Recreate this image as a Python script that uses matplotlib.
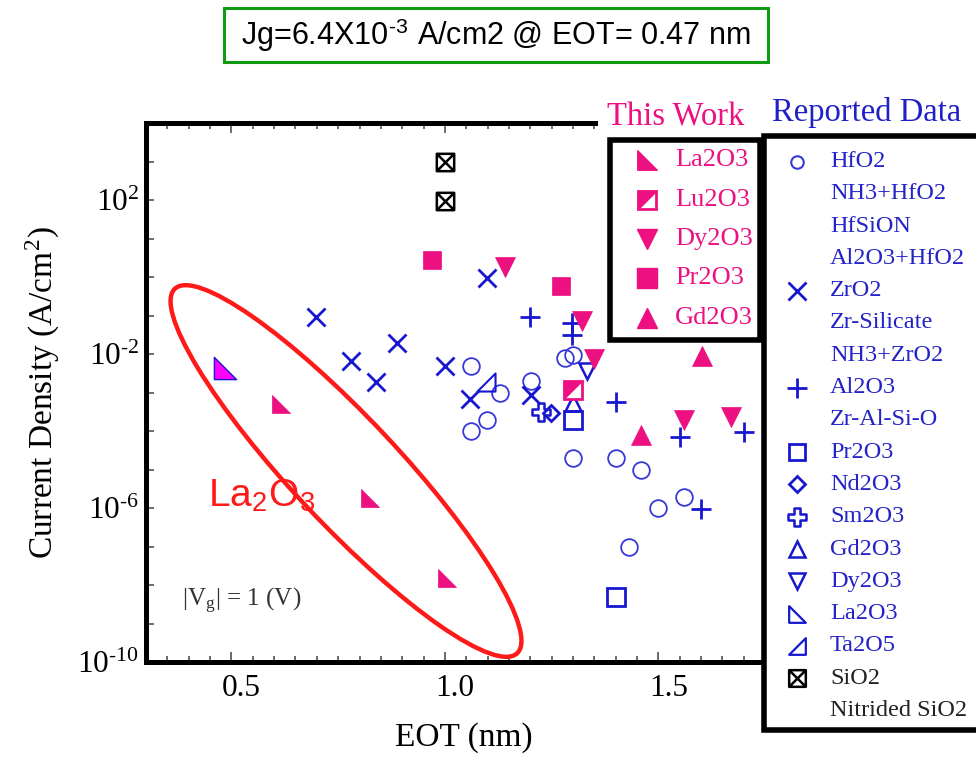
import numpy as np
import matplotlib
matplotlib.use("Agg")
import matplotlib.pyplot as plt
from matplotlib.path import Path
from matplotlib.patches import Ellipse, Rectangle
from matplotlib.ticker import MultipleLocator, NullLocator
import matplotlib.transforms as mtransforms

plt.rcParams['font.family'] = ['Liberation Serif', 'DejaVu Serif']
plt.rcParams['mathtext.fontset'] = 'stix'

PINK = '#EC1080'
BLUE = '#1717D0'
LBLUE = '#3838DA'
RED = '#FF1A1A'

# ---- this work ----
la_eot = [0.615, 0.824, 1.004]
la_jg = [5.1e-4, 1.8e-6, 1.5e-8]
la_best_eot = [0.484]
la_best_jg = [4.3e-3]
lu_eot = [1.30]
lu_jg = [1.16e-3]
dy_eot = [1.14, 1.321, 1.349, 1.561, 1.67]
dy_jg = [1.87, 7.3e-2, 7.2e-3, 1.9e-4, 2.3e-4]
pr_eot = [0.97, 1.271]
pr_jg = [2.76, 0.58]
gd_eot = [1.601, 1.46]
gd_jg = [9.1e-3, 7.9e-5]

# ---- reported data ----
hfo2_eot = [1.06, 1.281, 1.30, 1.13, 1.201, 1.099, 1.06, 1.30, 1.40, 1.46, 1.56, 1.50, 1.431]
hfo2_jg = [5.0e-3, 7.9e-3, 9.5e-3, 9.6e-4, 1.95e-3, 1.9e-4, 1.0e-4, 1.95e-5, 1.95e-5,
           9.7e-6, 1.95e-6, 9.8e-7, 1.0e-7]
zro2_eot = [0.699, 0.779, 0.838, 0.888, 1.0, 1.099, 1.059, 1.201]
zro2_jg = [0.093, 6.7e-3, 1.9e-3, 1.93e-2, 4.8e-3, 0.925, 6.6e-4, 8.6e-4]
al2o3_eot = [1.199, 1.298, 1.298, 1.40, 1.55, 1.70, 1.599]
al2o3_jg = [0.093, 0.065, 0.031, 5.6e-4, 6.9e-5, 9.6e-5, 9.2e-7]
pr2o3_eot = [1.30, 1.40]
pr2o3_jg = [1.9e-4, 5.0e-9]
nd2o3_eot = [1.248]
nd2o3_jg = [3.0e-4]
sm2o3_eot = [1.224]
sm2o3_jg = [3.2e-4]
gd2o3_eot = [1.30]
gd2o3_jg = [5.2e-4]
dy2o3_eot = [1.332]
dy2o3_jg = [3.6e-3]
ta2o5_eot = [1.097]
ta2o5_jg = [1.9e-3]
sio2_eot = [1.0, 1.0]
sio2_jg = [955, 96]

y_label_powers = [2, -2, -6, -10]
this_work_labels = ['La2O3', 'Lu2O3', 'Dy2O3', 'Pr2O3', 'Gd2O3']
reported_labels = ['HfO2', 'NH3+HfO2', 'HfSiON', 'Al2O3+HfO2', 'ZrO2', 'Zr-Silicate',
                   'NH3+ZrO2', 'Al2O3', 'Zr-Al-Si-O', 'Pr2O3', 'Nd2O3', 'Sm2O3',
                   'Gd2O3', 'Dy2O3', 'La2O3', 'Ta2O5', 'SiO2', 'Nitrided SiO2']

# custom marker shapes
tri_ll = Path([(-1, -1), (1, -1), (-1, 1), (-1, -1)], closed=True)
tri_lr = Path([(1, -1), (-1, -1), (1, 1), (1, -1)], closed=True)
tri_ul = Path([(-1, -1), (-1, 1), (1, 1), (-1, -1)], closed=True)
w = 0.36
plus_outline = Path([(-w, 1), (w, 1), (w, w), (1, w), (1, -w), (w, -w), (w, -1), (-w, -1),
                     (-w, -w), (-1, -w), (-1, w), (-w, w), (-w, 1)], closed=True)
xbox = Path([(-1, -1), (1, -1), (1, 1), (-1, 1), (-1, -1), (-1, -1), (1, 1), (-1, 1), (1, -1)],
            [Path.MOVETO, Path.LINETO, Path.LINETO, Path.LINETO, Path.CLOSEPOLY,
             Path.MOVETO, Path.LINETO, Path.MOVETO, Path.LINETO])


def pow_label(k):
    # hyphen instead of the long math minus, like the original
    if k < 0:
        return r'$\mathregular{10^{\text{-}%d}}$' % (-k)
    return r'$\mathregular{10^{%d}}$' % k


W, H = 976, 757
fig = plt.figure(figsize=(W / 100, H / 100), dpi=100)
ax = fig.add_axes([146 / W, 1 - 662 / H, 616 / W, 539 / H])

# reported data
ax.plot(hfo2_eot, hfo2_jg, 'o', ls='none', mfc='none', mec=LBLUE, ms=12, mew=1.3)
ax.plot(zro2_eot, zro2_jg, 'x', ls='none', mec=BLUE, ms=13, mew=2)
ax.plot(al2o3_eot, al2o3_jg, '+', ls='none', mec=BLUE, ms=14, mew=2)
ax.plot(pr2o3_eot, pr2o3_jg, 's', ls='none', mfc='none', mec=BLUE, ms=12.5, mew=2)
ax.plot(nd2o3_eot, nd2o3_jg, 'D', ls='none', mfc='none', mec=BLUE, ms=8, mew=2)
ax.plot(sm2o3_eot, sm2o3_jg, marker=plus_outline, ls='none', mfc='none', mec=BLUE, ms=13, mew=1.8)
ax.plot(gd2o3_eot, gd2o3_jg, '^', ls='none', mfc='none', mec=BLUE, ms=12, mew=1.8)
ax.plot(dy2o3_eot, dy2o3_jg, 'v', ls='none', mfc='none', mec=BLUE, ms=12, mew=1.8)
ax.plot(ta2o5_eot, ta2o5_jg, marker=tri_lr, ls='none', mfc='none', mec=BLUE, ms=13, mew=1.5)
ax.plot(sio2_eot, sio2_jg, marker=xbox, ls='none', mfc='none', mec='black', ms=12.5, mew=1.8)

# this work
ax.plot(la_eot, la_jg, marker=tri_ll, ls='none', mfc=PINK, mec=PINK, ms=13, mew=0.5)
ax.plot(la_best_eot, la_best_jg, marker=tri_ll, ls='none', mfc='#FF00FF', mec=BLUE, ms=16, mew=1)
ax.plot(lu_eot, lu_jg, 's', ls='none', mfc='white', mec=PINK, ms=13, mew=2)
ax.plot(lu_eot, lu_jg, marker=tri_ul, ls='none', mfc=PINK, mec=PINK, ms=13, mew=0.5)
ax.plot(dy_eot, dy_jg, 'v', ls='none', mfc=PINK, mec=PINK, ms=14, mew=0.5)
ax.plot(pr_eot, pr_jg, 's', ls='none', mfc=PINK, mec=PINK, ms=13, mew=0.5)
ax.plot(gd_eot, gd_jg, '^', ls='none', mfc=PINK, mec=PINK, ms=14, mew=0.5)

ax.set_xlim(0.3, 0.3 + 616 / 427)
ax.set_yscale('log')
ax.set_ylim(1e-10, 1e4)

for s in ['left', 'bottom', 'top']:
    ax.spines[s].set_linewidth(3.6)
ax.spines['right'].set_visible(False)

ax.set_xticks([0.5, 1.0, 1.5], ['0.5', '1.0', '1.5'])
ax.xaxis.set_minor_locator(MultipleLocator(0.05))
powers = list(range(-10, 4))
ax.set_yticks([10.0 ** k for k in powers],
              [pow_label(k) if k in y_label_powers else '' for k in powers])
ax.yaxis.set_minor_locator(NullLocator())
ax.tick_params(axis='both', which='both', direction='in', color='#444444', width=1.1,
               labelsize=22.5)
ax.tick_params(axis='x', which='both', top=True)
ax.tick_params(axis='x', which='major', length=7, pad=9)
ax.tick_params(axis='x', which='minor', length=4)
ax.tick_params(axis='y', which='major', length=5.5, pad=5)
shift = mtransforms.ScaledTranslation(0.10, 0, fig.dpi_scale_trans)
for lbl in ax.get_xticklabels():
    lbl.set_transform(lbl.get_transform() + shift)

ax.set_xlabel('EOT (nm)', fontsize=24, va='center')
ax.xaxis.set_label_coords((464 - 146) / 616, -(738 - 662) / 539)
ax.set_ylabel(r'Current Density (A/cm$^\mathregular{2}$)', fontsize=24, va='center')
ax.yaxis.set_label_coords((42 - 146) / 616, 0.5)

# overlay in pixel coordinates for annotations and legends
ov = fig.add_axes([0, 0, 1, 1], zorder=5)
ov.set_xlim(0, W)
ov.set_ylim(H, 0)
ov.axis('off')

ov.add_patch(Rectangle((598, 112), 170, 23, fc='white', ec='none', zorder=1))
ov.add_patch(Ellipse((346, 471), 500, 106, angle=46.8, fill=False, ec=RED, lw=3.2, zorder=2))
ov.text(208, 507, r'La$_\mathregular{2}$O$_\mathregular{3}$', family='Liberation Sans',
        fontsize=28, color=RED, ha='left', va='baseline', zorder=3)
ov.text(182, 606, r'|V$_\mathregular{g}$| = 1 (V)', fontsize=18, color='#333333',
        ha='left', va='baseline', zorder=3)

# title box
ov.add_patch(Rectangle((224, 8), 544, 54, fc='white', ec='#129912', lw=2.2, zorder=3))
ov.text(496, 35, r'Jg=6.4X10$^{\mathregular{\text{-}3}}$ A/cm2 @ EOT= 0.47 nm',
        family='Liberation Sans', fontsize=22, ha='center', va='center', zorder=4)

# this work legend
ov.text(607, 125, 'This Work', fontsize=23.5, color=PINK, ha='left', va='baseline', zorder=4)
ov.add_patch(Rectangle((609.5, 139.5), 150.5, 200.5, fc='white', ec='black', lw=4, zorder=3))
tw_y = [160, 200, 239, 278, 318]
tw_style = [dict(marker=tri_ll, mfc=PINK, mec=PINK, ms=14),
            dict(marker='s', mfc='white', mec=PINK, ms=13, mew=2),
            dict(marker='v', mfc=PINK, mec=PINK, ms=14),
            dict(marker='s', mfc=PINK, mec=PINK, ms=14),
            dict(marker='^', mfc=PINK, mec=PINK, ms=14)]
for yy, lab, st in zip(tw_y, this_work_labels, tw_style):
    ov.plot([647], [yy], ls='none', zorder=4, **st)
    if lab == 'Lu2O3':
        ov.plot([647], [yy], ls='none', marker=tri_ul, mfc=PINK, mec=PINK, ms=13, zorder=4)
    ov.text(675, yy, lab, fontsize=19, color=PINK, ha='left', va='center', zorder=4)

# reported data legend
ov.text(772, 121, 'Reported Data', fontsize=23.5, color='#2020C8', ha='left', va='baseline', zorder=4)
ov.add_patch(Rectangle((764, 135.5), 230, 594, fc='white', ec='black', lw=4, zorder=3))
rd_y = np.linspace(161.5, 710.5, len(reported_labels))
rd_style = {
    'HfO2': dict(marker='o', mfc='none', mec=LBLUE, ms=9, mew=1.5),
    'ZrO2': dict(marker='x', mec=BLUE, ms=13, mew=2),
    'Al2O3': dict(marker='+', mec=BLUE, ms=14, mew=2),
    'Pr2O3': dict(marker='s', mfc='none', mec=BLUE, ms=12, mew=2),
    'Nd2O3': dict(marker='D', mfc='none', mec=BLUE, ms=8.5, mew=2),
    'Sm2O3': dict(marker=plus_outline, mfc='none', mec=BLUE, ms=13, mew=1.8),
    'Gd2O3': dict(marker='^', mfc='none', mec=BLUE, ms=12, mew=1.8),
    'Dy2O3': dict(marker='v', mfc='none', mec=BLUE, ms=12, mew=1.8),
    'La2O3': dict(marker=tri_ll, mfc='none', mec=BLUE, ms=12, mew=1.6),
    'Ta2O5': dict(marker=tri_lr, mfc='none', mec=BLUE, ms=12, mew=1.6),
    'SiO2': dict(marker=xbox, mfc='none', mec='black', ms=12, mew=1.8),
}
for yy, lab in zip(rd_y, reported_labels):
    if lab in rd_style:
        ov.plot([797], [yy], ls='none', zorder=4, **rd_style[lab])
    col = '#222222' if 'SiO2' in lab else '#2323C8'
    ov.text(830, yy, lab, fontsize=17.5, color=col, ha='left', va='center', zorder=4)

fig.savefig('out.png', dpi=100)
